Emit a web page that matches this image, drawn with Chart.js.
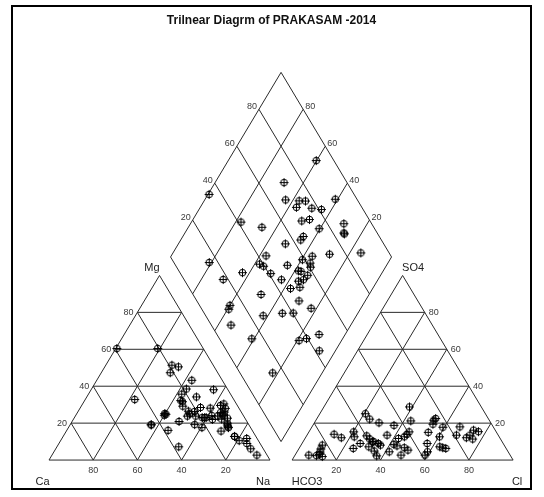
<!DOCTYPE html>
<html>
<head>
<meta charset="utf-8">
<script src="https://cdn.jsdelivr.net/npm/chart.js@4/dist/chart.umd.min.js"></script>
<style>
  html, body { margin: 0; padding: 0; background: #fff; }
  canvas { display: block; }
</style>
</head>
<body>
<canvas id="piper" width="544" height="497"></canvas>
<script>
// Major ion composition of the samples, percent of milliequivalents
const ca   = [35.0, 39.1, 21.5, 44.3, 13.8, 24.9, 24.3, 25.5, 6.5, 18.1, 16.2, 21.0, 44.8, 16.2, 17.4, 7.9, 10.1, 10.0, 21.7, 17.2, 30.7, 18.6, 20.6, 9.8, 6.0, 5.7, 9.5, 22.0, 22.1, 23.8, 37.7, 8.9, 14.3, 15.1, 10.8, 44.1, 23.7, 24.5, 18.7, 7.7, 11.8, 9.3, 7.6, 23.9, 14.3, 9.7, 6.2, 9.3, 19.2, 35.7, 34.7, 38.1, 13.0, 5.7, 8.7, 4.7, 4.6, 9.6];
const mg   = [25.2, 60.4, 47.3, 19.1, 43.2, 29.2, 32.2, 23.8, 38.1, 23.0, 34.2, 26.3, 32.8, 50.5, 23.0, 22.7, 18.0, 17.6, 23.8, 28.5, 20.9, 38.5, 60.4, 19.0, 9.0, 30.4, 25.7, 17.6, 35.7, 31.6, 7.2, 25.0, 24.1, 22.0, 22.2, 19.1, 26.5, 19.2, 51.4, 26.0, 23.8, 24.0, 29.6, 25.0, 15.7, 12.8, 28.0, 20.0, 23.0, 24.3, 24.8, 16.1, 28.1, 6.1, 10.5, 11.7, 2.7, 12.8];
const na   = [39.8, 0.5, 31.2, 36.6, 43.0, 45.9, 43.5, 50.7, 55.4, 58.9, 49.6, 52.7, 22.4, 33.3, 59.6, 69.4, 71.9, 72.4, 54.5, 54.3, 48.4, 42.9, 19.0, 71.2, 85.0, 63.9, 64.8, 60.4, 42.2, 44.6, 55.1, 66.1, 61.6, 62.9, 67.0, 36.8, 49.8, 56.3, 29.9, 66.3, 64.4, 66.7, 62.8, 51.1, 70.0, 77.5, 65.8, 70.7, 57.8, 40.0, 40.5, 45.8, 58.9, 88.2, 80.8, 83.6, 92.7, 77.6];
const hco3 = [8.0, 65.6, 28.5, 32.5, 26.6, 23.8, 29.6, 22.9, 18.9, 9.8, 30.9, 27.0, 58.7, 50.6, 25.1, 12.6, 15.1, 15.1, 34.4, 36.5, 44.5, 56.5, 84.0, 27.3, 12.8, 35.7, 38.5, 41.1, 61.7, 60.4, 49.4, 39.4, 45.9, 44.9, 42.9, 71.7, 59.2, 56.0, 82.3, 46.0, 48.7, 49.7, 54.3, 69.2, 53.8, 50.3, 64.7, 59.7, 74.0, 86.2, 87.8, 91.1, 85.4, 53.8, 64.5, 60.6, 58.1, 85.2];
const so4  = [15.4, 12.6, 6.7, 28.8, 19.4, 22.5, 7.2, 17.8, 13.5, 16.2, 15.0, 12.6, 9.9, 20.2, 21.6, 11.4, 18.0, 12.1, 9.0, 4.5, 18.8, 9.0, 6.0, 6.3, 13.5, 21.2, 2.7, 13.9, 7.2, 4.9, 2.7, 15.3, 6.7, 5.4, 12.6, 12.1, 11.4, 8.1, 8.1, 11.7, 7.7, 8.5, 25.1, 6.3, 4.5, 13.5, 9.0, 13.1, 14.0, 3.0, 2.4, 2.7, 1.9, 22.2, 15.3, 2.3, 10.0, 4.3];
const cl   = [76.6, 21.8, 64.8, 38.7, 54.0, 53.7, 63.2, 59.3, 67.6, 74.0, 54.1, 60.4, 31.4, 29.2, 53.3, 76.0, 66.9, 72.8, 56.6, 59.0, 36.7, 34.5, 10.0, 66.4, 73.7, 43.1, 58.8, 45.0, 31.1, 34.7, 47.9, 45.3, 47.4, 49.7, 44.5, 16.2, 29.4, 35.9, 9.6, 42.3, 43.6, 41.8, 20.6, 24.5, 41.7, 36.2, 26.3, 27.2, 12.0, 10.8, 9.8, 6.2, 12.7, 24.0, 20.2, 37.1, 31.9, 10.5];

const gridTicks = [20, 40, 60, 80];
const titleText = 'Trilnear Diagrm of PRAKASAM -2014';

// Diagram units: each triangle has a base of 1 and a height of 1.
const GAP = 0.1;                         // space between the two triangles
const RX = 1 + GAP;                      // left corner of the anion triangle
const DL = { x: 0.5 + GAP / 2, y: 1 + GAP };  // left corner of the diamond
const DA = { x: 0.5, y: -1 };            // diamond edge towards the bottom corner
const DC = { x: 0.5, y: 1 };             // diamond edge towards the top corner

// Visible window of the plot region
const X_MIN = -0.167421, X_MAX = 2.180995;
const Y_MIN = -0.156757, Y_MAX = 2.459459;

function cationPoint(i) {
  const t = ca[i] + mg[i] + na[i];
  const m = mg[i] / t, n = na[i] / t;
  return { x: n + m / 2, y: m };
}
function anionPoint(i) {
  const t = hco3[i] + so4[i] + cl[i];
  const s = so4[i] / t, c = cl[i] / t;
  return { x: RX + c + s / 2, y: s };
}
function diamondPoint(i) {
  const u = na[i] / (ca[i] + mg[i] + na[i]);
  const w = (so4[i] + cl[i]) / (hco3[i] + so4[i] + cl[i]);
  return { x: DL.x + u * DA.x + w * DC.x, y: DL.y + u * DA.y + w * DC.y };
}

const idx = ca.map((_, i) => i);

// circle with a cross, used as the sample marker
function circlePlus() {
  const c = document.createElement('canvas');
  c.width = 11; c.height = 11;
  const g = c.getContext('2d');
  g.strokeStyle = '#000';
  g.lineWidth = 1;
  g.beginPath(); g.arc(5.5, 5.5, 3.3, 0, Math.PI * 2); g.stroke();
  g.beginPath();
  g.moveTo(5.5, 1); g.lineTo(5.5, 10);
  g.moveTo(1, 5.5); g.lineTo(10, 5.5);
  g.stroke();
  return c;
}
const marker = circlePlus();

function add(p, q, k) { return { x: p.x + q.x * k, y: p.y + q.y * k }; }

const piperFrame = {
  id: 'piperFrame',
  beforeDatasetsDraw(chart) {
    const { ctx, scales: { x, y } } = chart;
    const X = v => x.getPixelForValue(v), Y = v => y.getPixelForValue(v);
    const line = (a, b) => { ctx.moveTo(X(a.x), Y(a.y)); ctx.lineTo(X(b.x), Y(b.y)); };
    ctx.save();
    ctx.strokeStyle = '#2a2a2a';
    ctx.lineWidth = 1;
    ctx.beginPath();
    // the two ternary triangles
    [0, RX].forEach(ox => {
      const A = { x: ox, y: 0 }, B = { x: ox + 1, y: 0 }, C = { x: ox + 0.5, y: 1 };
      line(A, B); line(B, C); line(C, A);
      gridTicks.forEach(t => {
        const f = t / 100;
        line({ x: ox + f / 2, y: f }, { x: ox + 1 - f / 2, y: f });
        line({ x: ox + f, y: 0 }, { x: ox + f + (1 - f) / 2, y: 1 - f });
        line({ x: ox + f, y: 0 }, { x: ox + f / 2, y: f });
      });
    });
    // the central diamond
    const L = DL, Bt = add(DL, DA, 1), T = add(DL, DC, 1), R = add(Bt, DC, 1);
    line(L, Bt); line(Bt, R); line(R, T); line(T, L);
    gridTicks.forEach(t => {
      const f = t / 100;
      const p = add(L, DC, f); line(p, add(p, DA, 1));
      const q = add(L, DA, f); line(q, add(q, DC, 1));
    });
    ctx.stroke();
    ctx.restore();
  },
  afterDraw(chart) {
    const { ctx, chartArea: a, scales: { x, y } } = chart;
    const X = v => x.getPixelForValue(v), Y = v => y.getPixelForValue(v);
    ctx.save();
    // tick labels
    ctx.font = '9px "Liberation Sans", Arial, sans-serif';
    ctx.fillStyle = '#3a3a3a';
    gridTicks.forEach(t => {
      const f = t / 100;
      // Mg on the left side of the cation triangle
      ctx.textAlign = 'right'; ctx.textBaseline = 'middle';
      ctx.fillText(String(t), X(f / 2) - 4, Y(f));
      // Ca along the cation base
      ctx.textAlign = 'center'; ctx.textBaseline = 'middle';
      ctx.fillText(String(t), X(1 - f), Y(0) + 10);
      // Cl along the anion base
      ctx.fillText(String(t), X(RX + f), Y(0) + 10);
      // SO4 on the right side of the anion triangle
      ctx.textAlign = 'left';
      ctx.fillText(String(t), X(RX + 1 - f / 2) + 4, Y(f));
      // diamond: SO4+Cl on the upper left, Ca+Mg on the upper right
      const pl = add(DL, DC, f);
      ctx.textAlign = 'right';
      ctx.fillText(String(t), X(pl.x) - 2, Y(pl.y) - 3);
      const pr = add(add(DL, DC, 1), DA, 1 - f);
      ctx.textAlign = 'left';
      ctx.fillText(String(t), X(pr.x) + 2, Y(pr.y) - 3);
    });
    // corner names
    ctx.font = '11px "Liberation Sans", Arial, sans-serif';
    ctx.fillStyle = '#222';
    ctx.textAlign = 'center'; ctx.textBaseline = 'middle';
    ctx.fillText('Ca', X(0) - 6.5, Y(0) + 22);
    ctx.fillText('Na', X(1) - 7, Y(0) + 22);
    ctx.fillText('Mg', X(0.5) - 7.5, Y(1) - 7.5);
    ctx.fillText('HCO3', X(RX) + 15, Y(0) + 22);
    ctx.fillText('Cl', X(RX + 1) + 4, Y(0) + 22);
    ctx.fillText('SO4', X(RX + 0.5) + 10.5, Y(1) - 7.5);
    // title
    ctx.font = 'bold 12px "Liberation Sans", Arial, sans-serif';
    ctx.fillStyle = '#111';
    ctx.fillText(titleText, (a.left + a.right) / 2, 21);
    // box around the plot region
    ctx.strokeStyle = '#000';
    ctx.lineWidth = 2;
    ctx.strokeRect(a.left, a.top, a.right - a.left, a.bottom - a.top);
    ctx.restore();
  }
};

const common = {
  pointStyle: marker,
  pointRadius: 5,
  showLine: false,
  borderColor: '#000',
  backgroundColor: '#000'
};

new Chart(document.getElementById('piper'), {
  type: 'scatter',
  data: {
    datasets: [
      Object.assign({ label: 'Cations', data: idx.map(cationPoint) }, common),
      Object.assign({ label: 'Anions', data: idx.map(anionPoint) }, common),
      Object.assign({ label: 'Diamond', data: idx.map(diamondPoint) }, common)
    ]
  },
  options: {
    responsive: false,
    animation: false,
    events: [],
    layout: { padding: { left: 12, right: 13, top: 5, bottom: 8 } },
    scales: {
      x: { type: 'linear', min: X_MIN, max: X_MAX, display: false },
      y: { type: 'linear', min: Y_MIN, max: Y_MAX, display: false }
    },
    plugins: { legend: { display: false }, tooltip: { enabled: false }, title: { display: false } }
  },
  plugins: [piperFrame]
});
</script>
</body>
</html>
